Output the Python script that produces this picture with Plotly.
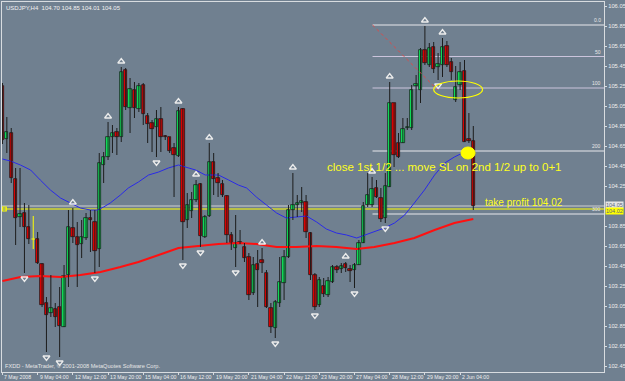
import plotly.graph_objects as go

title_text = "USDJPY,H4  104.70 104.85 104.01 104.05"
copyright_text = "FXDD - MetaTrader, \u00a9 2001-2008 MetaQuotes Software Corp."

opens = [105.25, 104.72, 104.78, 104.32, 103.94, 103.98, 103.84, 103.72, 103.72, 103.47,
         103.08, 102.98, 103.02, 103.04, 102.84, 103.36, 103.83, 103.74, 103.67, 103.73,
         103.93, 103.89, 103.62, 104.46, 104.54, 104.74, 104.79, 104.74, 105.41, 105.03,
         105.21, 105.02, 105.26, 104.95, 104.88, 104.84, 104.92, 104.75, 104.74, 104.63,
         104.55, 105.02, 103.91, 104.00, 104.11, 104.27, 103.74, 103.95, 104.49, 104.33,
         104.27, 104.15, 103.76, 103.63, 103.69, 103.64, 103.54, 103.18, 103.47, 103.51,
         103.38, 103.03, 102.83, 103.08, 103.28, 103.54, 104.01, 104.06, 104.08, 104.09,
         103.78, 103.36, 103.06, 103.25, 103.16, 103.29, 103.44, 103.42, 103.47, 103.42,
         103.41, 103.46, 103.68, 104.06, 104.06, 104.23, 104.13, 103.93, 104.24, 105.08,
         104.68, 104.68, 104.83, 104.83, 105.25, 105.21, 105.61, 105.46, 105.64, 105.44,
         105.46, 105.65, 105.49, 105.11, 105.26, 105.40, 104.72, 104.70]
highs = [105.28, 104.94, 104.83, 104.43, 104.43, 104.08, 104.06, 103.95, 103.79, 103.48,
         103.14, 103.36, 103.08, 103.24, 103.46, 104.01, 104.03, 103.89, 103.91, 103.98,
         104.01, 104.01, 104.58, 104.59, 104.89, 104.86, 104.83, 105.44, 105.43, 105.33,
         105.29, 105.28, 105.28, 104.98, 104.91, 105.01, 105.04, 104.76, 104.74, 104.68,
         105.04, 105.03, 104.18, 104.19, 104.31, 104.28, 103.96, 104.68, 104.58, 104.38,
         104.31, 104.16, 103.79, 103.96, 103.81, 103.68, 103.58, 103.54, 103.61, 103.63,
         103.41, 103.08, 103.11, 103.54, 103.61, 104.06, 104.38, 104.16, 104.24, 104.16,
         103.79, 103.38, 103.34, 103.33, 103.34, 103.46, 103.46, 103.48, 103.49, 103.46,
         103.48, 103.71, 104.09, 104.38, 104.34, 104.31, 104.23, 104.38, 105.29, 105.08,
         104.78, 104.93, 104.93, 105.26, 105.36, 105.63, 105.85, 105.68, 105.69, 105.58,
         105.73, 105.70, 105.53, 105.45, 105.49, 105.51, 104.98, 104.85]
lows = [104.67, 104.58, 104.28, 103.66, 103.84, 103.38, 103.67, 103.62, 103.47, 103.04,
        102.59, 102.94, 102.84, 102.54, 102.84, 103.24, 103.68, 103.24, 103.53, 103.71,
        103.59, 103.38, 103.44, 104.28, 104.51, 104.58, 104.56, 104.69, 105.01, 104.78,
        104.93, 104.99, 104.86, 104.68, 104.59, 104.54, 104.59, 104.71, 104.58, 104.14,
        104.54, 103.51, 103.83, 103.93, 104.09, 103.64, 103.73, 103.94, 104.16, 104.14,
        104.14, 103.68, 103.61, 103.44, 103.67, 103.49, 103.11, 103.16, 103.04, 103.38,
        103.03, 102.78, 102.73, 103.04, 103.11, 103.53, 103.91, 103.94, 103.99, 103.73,
        103.31, 103.01, 103.04, 103.14, 103.14, 103.28, 103.38, 103.38, 103.39, 103.29,
        103.23, 103.46, 103.68, 104.04, 104.04, 104.13, 103.89, 103.88, 104.24, 104.44,
        104.53, 104.68, 104.81, 104.81, 105.01, 105.08, 105.46, 105.44, 105.38, 105.31,
        105.34, 105.44, 105.31, 105.09, 105.21, 104.69, 104.68, 104.01]
closes = [104.71, 104.79, 104.33, 103.93, 103.97, 103.84, 103.72, 103.72, 103.48, 103.06,
          102.96, 103.03, 102.94, 102.85, 103.35, 103.84, 103.74, 103.66, 103.74, 103.93,
          103.91, 103.60, 104.48, 104.54, 104.74, 104.78, 104.74, 105.39, 105.04, 105.22,
          105.03, 105.25, 104.97, 104.87, 104.82, 104.92, 104.74, 104.74, 104.60, 104.56,
          105.00, 103.89, 104.06, 104.11, 104.26, 103.75, 103.94, 104.49, 104.32, 104.28,
          104.16, 103.76, 103.68, 103.68, 103.67, 103.53, 103.16, 103.46, 103.41, 103.48,
          103.04, 102.84, 103.09, 103.29, 103.54, 104.01, 104.06, 104.08, 104.10, 103.79,
          103.36, 103.04, 103.31, 103.17, 103.30, 103.44, 103.41, 103.45, 103.43, 103.40,
          103.46, 103.68, 104.05, 104.16, 104.22, 104.14, 103.92, 104.25, 105.08, 104.56,
          104.54, 104.82, 104.84, 105.21, 105.27, 105.61, 105.48, 105.63, 105.42, 105.47,
          105.64, 105.46, 105.39, 105.24, 105.39, 104.69, 104.70, 104.05]

doji_bars = [7]
fractal_up = [16, 24, 27, 40, 44, 47, 59, 66, 78, 84, 88, 96, 100]
fractal_down = [5, 10, 13, 21, 35, 41, 45, 53, 62, 71, 80, 87, 99]

blue_ma_idx = [0, 1.8, 4.1, 6.4, 8.6, 10.9, 13.2, 15.5, 17.7, 20, 21.6, 23, 24.5, 26.8, 28.6,
               30.9, 33.2, 35.5, 37.7, 40, 41.6, 43.9, 46.1, 49.1, 51.4, 53.6, 55.5, 57.7,
               60, 62.3, 64.5, 66.8, 69.1, 71.4, 73.6, 75.9, 78.2, 80.5, 82.3, 84.5, 86.8,
               89.1, 91.4, 93.6, 95.9, 98.2, 100.5, 102.7, 105, 107]
blue_ma_val = [104.52, 104.50, 104.46, 104.41, 104.31, 104.21, 104.13, 104.08, 104.03, 104.01,
               104.01, 104.04, 104.08, 104.16, 104.23, 104.29, 104.36, 104.39, 104.43, 104.46,
               104.44, 104.41, 104.36, 104.36, 104.31, 104.26, 104.23, 104.14, 104.06, 103.98,
               103.93, 103.94, 103.95, 103.89, 103.82, 103.78, 103.76, 103.73, 103.76, 103.79,
               103.83, 103.88, 103.96, 104.08, 104.21, 104.36, 104.48, 104.54, 104.59, 104.61]
red_ma_idx = [0, 4.1, 8.6, 13.2, 17.7, 22.3, 26.8, 30.9, 35.5, 40, 44.5, 49.1, 53.6, 57.7,
              62.3, 66.8, 71.4, 75.9, 80.5, 84.5, 89.1, 93.6, 98.2, 102.7, 107]
red_ma_val = [103.30, 103.34, 103.35, 103.34, 103.36, 103.39, 103.44, 103.49, 103.56, 103.63,
              103.65, 103.67, 103.68, 103.67, 103.64, 103.64, 103.65, 103.64, 103.62, 103.64,
              103.68, 103.73, 103.81, 103.88, 103.92]

x_tick_idx = [0, 8, 16, 24, 32, 40, 48, 56, 64, 72, 80, 88, 96, 104]
x_tick_text = ["7 May 2008", "9 May 04:00", "12 May 12:00", "13 May 20:00", "15 May 04:00",
               "16 May 12:00", "19 May 20:00", "21 May 04:00", "22 May 12:00", "23 May 20:00",
               "27 May 04:00", "28 May 12:00", "29 May 20:00", "2 Jun 04:00"]
y_tick_vals = [102.45, 102.65, 102.85, 103.05, 103.25, 103.45, 103.65, 103.85,
               104.25, 104.45, 104.65, 104.85, 105.05, 105.25, 105.45, 105.65, 105.85, 106.05]

fib_start = 84.1
fib_end_idx = 98.9
fib_levels = [105.86, 105.545, 105.23, 104.60, 103.97]
fib_labels = ["0.0", "50", "100", "200", "300"]
bid_price = 104.05
take_profit = 104.02
note_text = "close 1st 1/2 ... move SL on 2nd 1/2 up to 0+1"
tp_text = "take profit 104.02"

X_MIN, X_MAX = -0.1, 136.7
Y_MIN, Y_MAX = 102.39, 106.09
BG = "#708090"
AX = "#d8dce0"
FONT = "Liberation Sans"

fig = go.Figure()

# MAs
fig.add_trace(go.Scatter(x=red_ma_idx, y=red_ma_val, mode="lines",
                         line=dict(color="#ff1010", width=2), hoverinfo="skip"))
fig.add_trace(go.Scatter(x=blue_ma_idx, y=blue_ma_val, mode="lines",
                         line=dict(color="#2a2ae8", width=1), hoverinfo="skip"))

# wicks
wx, wy, dx, dy = [], [], [], []
for i, (h, l) in enumerate(zip(highs, lows)):
    if i in doji_bars:
        dx += [i, i, None, i - 0.4, i + 0.4, None]
        dy += [l, h, None, opens[i], opens[i], None]
    else:
        wx += [i, i, None]
        wy += [l, h, None]
fig.add_trace(go.Scatter(x=wx, y=wy, mode="lines", line=dict(color="#1c1c1c", width=1),
                         hoverinfo="skip"))
fig.add_trace(go.Scatter(x=dx, y=dy, mode="lines", line=dict(color="#ffff00", width=1),
                         hoverinfo="skip"))

# bodies
for up, col in ((True, "#10f060"), (False, "#f00000")):
    bx, bb, bh = [], [], []
    for i, (o, c) in enumerate(zip(opens, closes)):
        if i in doji_bars:
            continue
        if (c >= o) == up:
            bx.append(i)
            bb.append(min(o, c))
            bh.append(max(abs(c - o), 0.012))
    fig.add_trace(go.Bar(x=bx, y=bh, base=bb, width=0.75, marker=dict(color=col,
                         line=dict(color="#101010", width=0.7)), hoverinfo="skip"))

# fractals
fig.add_trace(go.Scatter(x=fractal_up, y=[highs[i] + 0.055 for i in fractal_up], mode="markers",
                         marker=dict(symbol="triangle-up-open", size=6, color="#ececec",
                                     line=dict(width=1.3, color="#ececec")), hoverinfo="skip"))
fig.add_trace(go.Scatter(x=fractal_down, y=[lows[i] - 0.055 for i in fractal_down], mode="markers",
                         marker=dict(symbol="triangle-down-open", size=6, color="#ececec",
                                     line=dict(width=1.3, color="#ececec")), hoverinfo="skip"))

# take-profit marker square
fig.add_trace(go.Scatter(x=[0.4], y=[take_profit], mode="markers",
                         marker=dict(symbol="square-open", size=4, color="#ffff00",
                                     line=dict(width=1.2, color="#ffff00")), hoverinfo="skip",
                         cliponaxis=False))

shapes = []
for lv, lab in zip(fib_levels, fib_labels):
    col = "#e8e8ec" if lab in ("0.0", "200", "300") else "#cbc4dc"
    shapes.append(dict(type="line", xref="x", yref="y", x0=fib_start, x1=X_MAX, y0=lv, y1=lv,
                       line=dict(color=col, width=1), layer="below"))
shapes.append(dict(type="line", xref="x", yref="y", x0=X_MIN, x1=X_MAX, y0=bid_price, y1=bid_price,
                   line=dict(color="#d0d0d0", width=1), layer="below"))
shapes.append(dict(type="line", xref="x", yref="y", x0=X_MIN, x1=X_MAX, y0=take_profit, y1=take_profit,
                   line=dict(color="#ffff00", width=1), layer="below"))
shapes.append(dict(type="line", xref="x", yref="y", x0=fib_start, x1=fib_end_idx,
                   y0=fib_levels[0], y1=fib_levels[2] - 0.02,
                   line=dict(color="#e04848", width=1, dash="dot")))
shapes.append(dict(type="circle", xref="x", yref="y", x0=98.0, x1=109.1, y0=105.13, y1=105.30,
                   line=dict(color="#ffff00", width=1.2)))
shapes.append(dict(type="circle", xref="x", yref="y", x0=104.2, x1=107.4, y0=104.52, y1=104.64,
                   line=dict(color="#ffff00", width=1), fillcolor="#ffff00"))

ann = []
ann.append(dict(xref="paper", yref="paper", x=0, y=1, xanchor="left", yanchor="top", xshift=2, yshift=-1,
                text=title_text, showarrow=False, font=dict(family=FONT, size=6, color="#f0f0f0")))
ann.append(dict(xref="x", yref="y", x=0.2, y=102.45, xanchor="left", yanchor="middle",
                text=copyright_text, showarrow=False, font=dict(family=FONT, size=5.6, color="#e6e6e6")))
for lv, lab in zip(fib_levels, fib_labels):
    ann.append(dict(xref="x", yref="y", x=X_MAX, y=lv, xanchor="right", yanchor="bottom", xshift=-1,
                    text=lab, showarrow=False, font=dict(family=FONT, size=5, color="#e8e8e8")))
ann.append(dict(xref="x", yref="y", x=73.4, y=104.44, xanchor="left", yanchor="middle",
                text=note_text, showarrow=False, font=dict(family=FONT, size=11.5, color="#ffff20")))
ann.append(dict(xref="x", yref="y", x=109.1, y=104.09, xanchor="left", yanchor="middle",
                text=tp_text, showarrow=False, font=dict(family=FONT, size=10, color="#ffff20")))
ann.append(dict(xref="paper", yref="y", x=1, y=bid_price, xanchor="left", yanchor="bottom", xshift=1,
                yshift=-3, text="%.2f" % bid_price, showarrow=False, bgcolor="#e4e4e4", borderpad=0,
                font=dict(family=FONT, size=5.5, color="#5a6878")))
ann.append(dict(xref="paper", yref="y", x=1, y=take_profit, xanchor="left", yanchor="top", xshift=1,
                yshift=2, text="%.2f" % take_profit, showarrow=False, bgcolor="#ffff00", borderpad=0,
                font=dict(family=FONT, size=5.5, color="#5a6878")))
# x-axis date labels, left-aligned at their tick like the terminal draws them
for t, lab in zip(x_tick_idx, x_tick_text):
    ann.append(dict(xref="x", yref="paper", x=t, y=0, xanchor="left", yanchor="top", yshift=0,
                    xshift=0, text=lab, showarrow=False,
                    font=dict(family=FONT, size=5.2, color="#eeeeee")))

fig.update_layout(
    width=625, height=381, margin=dict(l=2, r=21, t=2, b=9),
    paper_bgcolor=BG, plot_bgcolor=BG, showlegend=False, barmode="overlay",
    hovermode=False, shapes=shapes, annotations=ann, bargap=0,
    xaxis=dict(range=[X_MIN, X_MAX], tickvals=x_tick_idx, showticklabels=False,
               ticks="outside", ticklen=2, tickcolor=AX, showgrid=False, zeroline=False,
               showline=True, mirror=True, linecolor=AX, linewidth=1, automargin=False),
    yaxis=dict(range=[Y_MIN, Y_MAX], side="right", tickvals=y_tick_vals,
               ticktext=["%.2f" % v for v in y_tick_vals], ticks="outside", ticklen=2,
               tickcolor=AX, showgrid=False, zeroline=False, showline=True, mirror=True,
               linecolor=AX, linewidth=1, automargin=False,
               tickfont=dict(family=FONT, size=5.8, color="#eeeeee")),
)

fig.write_html("out.html")
